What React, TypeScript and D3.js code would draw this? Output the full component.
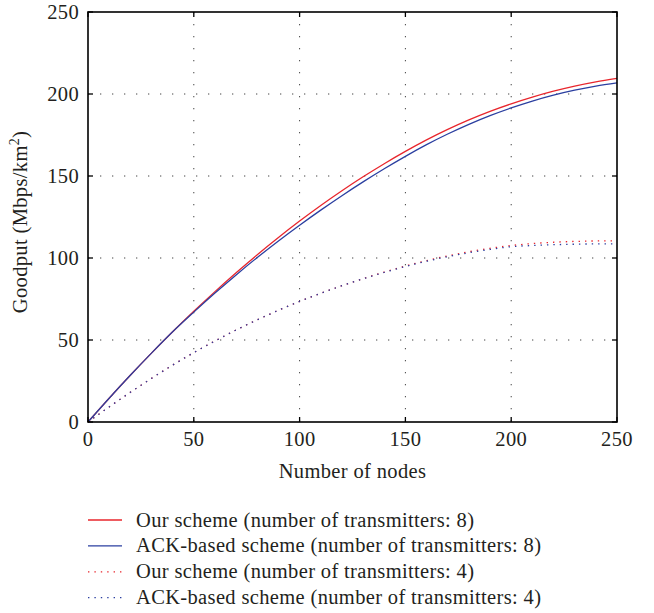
import React from 'react';
import * as d3 from 'd3';

// number of nodes
const nodes = [0, 10, 20, 30, 40, 50, 60, 70, 80, 90, 100, 110, 120, 130, 140, 150, 160, 170, 180, 190, 200, 210, 220, 230, 240, 250];

// goodput (Mbps/km^2)
const ourScheme8 = [0, 14.5, 28.5, 42, 55, 67.5, 79.5, 91, 102, 112.5, 122.5, 132, 141, 149.5, 157.5, 165, 172, 178.4, 184.2, 189.4, 194, 198.1, 201.7, 204.8, 207.4, 209.5];
const ackScheme8 = [0, 14.5, 28.5, 42, 55, 67, 78.6, 89.7, 100.3, 110.4, 120, 129.2, 138, 146.4, 154.4, 162, 169.1, 175.6, 181.5, 186.8, 191.5, 195.7, 199.3, 202.3, 204.8, 206.8];
const ourScheme4 = [0, 9.2, 18.1, 26.6, 34.7, 42.3, 49.4, 56.1, 62.3, 68.1, 73.5, 78.5, 83.1, 87.4, 91.4, 95.1, 98.4, 101.3, 103.8, 105.9, 107.6, 108.8, 109.6, 110.1, 110.4, 110.5];
const ackScheme4 = [0, 9.2, 18.1, 26.6, 34.7, 42.3, 49.4, 56.1, 62.3, 68.1, 73.5, 78.5, 83.1, 87.3, 91.2, 94.8, 98, 100.8, 103.2, 105.2, 106.9, 107.6, 108.1, 108.4, 108.6, 108.6];

const xTicks = [0, 50, 100, 150, 200, 250];
const yTicks = [0, 50, 100, 150, 200, 250];

const series = [
  { label: 'Our scheme (number of transmitters: 8)', values: ourScheme8, color: '#e8262d', dash: null },
  { label: 'ACK-based scheme (number of transmitters: 8)', values: ackScheme8, color: '#2b3fa0', dash: null },
  { label: 'Our scheme (number of transmitters: 4)', values: ourScheme4, color: '#e8262d', dash: '1.4 5' },
  { label: 'ACK-based scheme (number of transmitters: 4)', values: ackScheme4, color: '#2b3fa0', dash: '1.4 5' },
];

export default function App() {
  const width = 654;
  const height = 613;
  const margin = { top: 12, right: 37, left: 88, bottom: 191 };
  const innerW = width - margin.left - margin.right;
  const innerH = height - margin.top - margin.bottom;

  const x = d3.scaleLinear().domain([0, 250]).range([0, innerW]);
  const y = d3.scaleLinear().domain([0, 250]).range([innerH, 0]);

  const lineGen = d3.line<number>()
    .x((_, i) => x(nodes[i]))
    .y((d) => y(d))
    .curve(d3.curveMonotoneX);

  const font = '"Liberation Serif", "DejaVu Serif", serif';
  const fs = 20.5;
  const ls = 0.35;
  const ink = '#231f20';
  const tickLen = 5;

  return (
    <svg width={width} height={height} style={{ position: 'absolute', left: 0, top: 0 }}
      fontFamily={font} fontSize={fs} letterSpacing={ls} fill={ink}>
      <g transform={`translate(${margin.left},${margin.top})`}>
        {/* grid */}
        {xTicks.slice(1, -1).map((t) => (
          <line key={'gx' + t} x1={x(t)} x2={x(t)} y1={0} y2={innerH} stroke="#444" strokeWidth={1} strokeDasharray="1.3 10.7" />
        ))}
        {yTicks.slice(1, -1).map((t) => (
          <line key={'gy' + t} x1={0} x2={innerW} y1={y(t)} y2={y(t)} stroke="#444" strokeWidth={1} strokeDasharray="1.3 10.7" />
        ))}

        {/* series */}
        {series.map((s) => (
          <path key={s.label} d={lineGen(s.values) || ''} fill="none" stroke={s.color} strokeWidth={1.3}
            strokeDasharray={s.dash || undefined} />
        ))}

        {/* frame */}
        <rect x={0} y={0} width={innerW} height={innerH} fill="none" stroke="#000" strokeWidth={1.6} />

        {/* ticks */}
        {xTicks.map((t) => (
          <g key={'tx' + t}>
            <line x1={x(t)} x2={x(t)} y1={innerH} y2={innerH - tickLen} stroke="#000" strokeWidth={1.3} />
            <line x1={x(t)} x2={x(t)} y1={0} y2={tickLen} stroke="#000" strokeWidth={1.3} />
            <text x={x(t)} y={innerH + 24} textAnchor="middle">{t}</text>
          </g>
        ))}
        {yTicks.map((t) => (
          <g key={'ty' + t}>
            <line x1={0} x2={tickLen} y1={y(t)} y2={y(t)} stroke="#000" strokeWidth={1.3} />
            <line x1={innerW} x2={innerW - tickLen} y1={y(t)} y2={y(t)} stroke="#000" strokeWidth={1.3} />
            <text x={-9} y={y(t) + 6.5} textAnchor="end">{t}</text>
          </g>
        ))}

        {/* axis labels */}
        <text x={innerW / 2} y={innerH + 56} textAnchor="middle">Number of nodes</text>
        <text transform={`translate(${-61},${innerH / 2 + 5}) rotate(-90)`} textAnchor="middle">
          Goodput (Mbps/km<tspan dy={-8} fontSize={14}>2</tspan><tspan dy={8}>)</tspan>
        </text>
      </g>

      {/* legend */}
      <g transform="translate(88,520)">
        {series.map((s, i) => (
          <g key={'lg' + i} transform={`translate(0,${i * 25.9})`}>
            <line x1={0} x2={34} y1={0} y2={0} stroke={s.color} strokeWidth={1.3} strokeDasharray={s.dash || undefined} />
            <text x={48} y={6.5}>{s.label}</text>
          </g>
        ))}
      </g>
    </svg>
  );
}
